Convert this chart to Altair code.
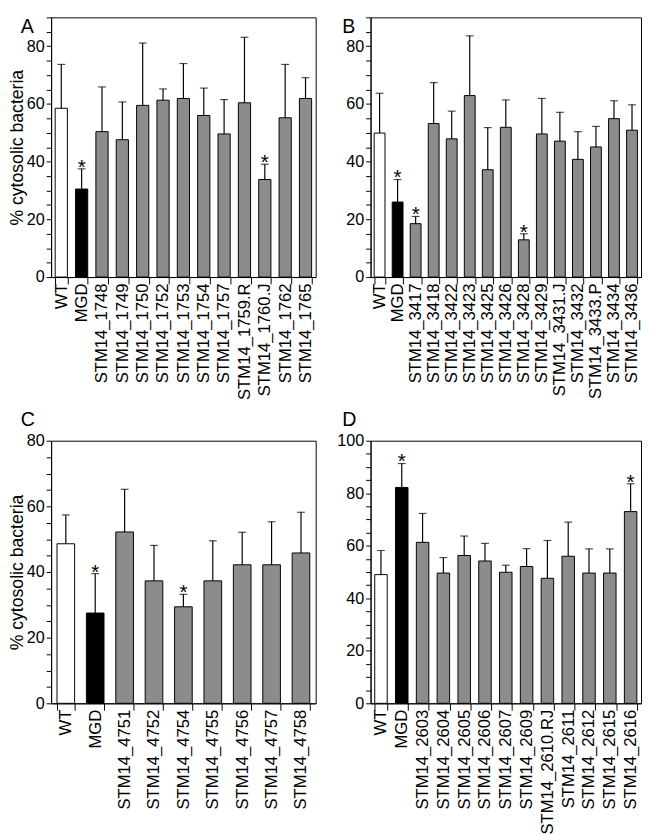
import altair as alt
import pandas as pd

FONT = "Liberation Sans"

# ---------------- data ----------------
A_labels = ["WT", "MGD", "STM14_1748", "STM14_1749", "STM14_1750", "STM14_1752", "STM14_1753",
            "STM14_1754", "STM14_1757", "STM14_1759.R", "STM14_1760.J", "STM14_1762", "STM14_1765"]
A_mean = [58.5, 30.5, 50.4, 47.6, 59.5, 61.3, 61.9, 56.0, 49.6, 60.4, 33.8, 55.2, 61.9]
A_upper = [73.7, 37.5, 65.9, 60.7, 81.1, 65.2, 74.0, 65.5, 61.5, 83.1, 39.1, 73.7, 69.1]
A_sig = [0, 1, 0, 0, 0, 0, 0, 0, 0, 0, 1, 0, 0]

B_labels = ["WT", "MGD", "STM14_3417", "STM14_3418", "STM14_3422", "STM14_3423", "STM14_3425",
            "STM14_3426", "STM14_3428", "STM14_3429", "STM14_3431.J", "STM14_3432", "STM14_3433.P",
            "STM14_3434", "STM14_3436"]
B_mean = [49.9, 26.0, 18.5, 53.2, 47.9, 62.9, 37.2, 51.9, 12.9, 49.6, 47.1, 40.8, 45.1, 54.9, 50.9]
B_upper = [63.7, 33.8, 21.0, 67.4, 57.5, 83.6, 51.8, 61.4, 15.0, 61.9, 57.1, 50.4, 52.2, 61.1, 59.7]
B_sig = [0, 1, 1, 0, 0, 0, 0, 0, 1, 0, 0, 0, 0, 0, 0]

C_labels = ["WT", "MGD", "STM14_4751", "STM14_4752", "STM14_4754", "STM14_4755", "STM14_4756",
            "STM14_4757", "STM14_4758"]
C_mean = [48.6, 27.5, 52.2, 37.3, 29.4, 37.3, 42.2, 42.2, 45.8]
C_upper = [57.4, 39.5, 65.2, 48.1, 33.2, 49.5, 52.1, 55.3, 58.2]
C_sig = [0, 1, 0, 0, 1, 0, 0, 0, 0]

D_labels = ["WT", "MGD", "STM14_2603", "STM14_2604", "STM14_2605", "STM14_2606", "STM14_2607",
            "STM14_2609", "STM14_2610.RJ", "STM14_2611", "STM14_2612", "STM14_2615", "STM14_2616"]
D_mean = [49.0, 82.2, 61.3, 49.6, 56.3, 54.2, 49.9, 52.1, 47.6, 56.0, 49.6, 49.6, 73.0]
D_upper = [58.2, 91.3, 72.3, 55.5, 63.7, 60.9, 52.6, 58.9, 62.0, 69.0, 58.8, 58.8, 83.6]
D_sig = [0, 1, 0, 0, 0, 0, 0, 0, 0, 0, 0, 0, 1]

KINDS = ["WT", "MGD", "mutant"]
KIND_COLORS = ["#ffffff", "#000000", "#8c8c8c"]


def panel(labels, means, uppers, sig, ymax, letter, show_title, width, height, lx, ly):
    kinds = [l if l in ("WT", "MGD") else "mutant" for l in labels]
    df = pd.DataFrame({"label": labels, "mean": means, "upper": uppers,
                       "sig": sig, "kind": kinds})
    xaxis = alt.Axis(title=None, labelAngle=-90, tickBand="extent",
                     tickSize=7, labelPadding=-1, labelFontSize=17, labelFont=FONT,
                     labelColor="black", tickColor="black", domainColor="black")
    x = alt.X("label:N", sort=labels,
              scale=alt.Scale(paddingInner=0.4, paddingOuter=0.2), axis=xaxis)
    yaxis = alt.Axis(values=list(range(0, ymax + 1, 5)),
                     labelExpr="datum.value % 20 === 0 ? datum.label : ''",
                     tickSize=5, labelPadding=2, labelFontSize=16.5, labelFont=FONT,
                     labelColor="black", tickColor="black", domainColor="black",
                     grid=False,
                     title="% cytosolic bacteria" if show_title else None,
                     titleFontSize=18, titleFontWeight="normal", titleFont=FONT,
                     titleColor="black", titlePadding=0)
    y = alt.Y("mean:Q", scale=alt.Scale(domain=[0, ymax], nice=False, zero=True), axis=yaxis)

    base = alt.Chart(df)
    bars = base.mark_bar(stroke="black", strokeWidth=1).encode(
        fill=alt.Fill("kind:N", scale=alt.Scale(domain=KINDS, range=KIND_COLORS), legend=None),
    )
    rule = base.mark_rule(color="black", strokeWidth=1.2).encode(y2="upper:Q")
    cap = base.transform_calculate(mean="datum.upper").mark_tick(
        color="black", size=8, thickness=1.2)
    stars = base.transform_filter("datum.sig == 1").transform_calculate(
        mean="datum.upper").mark_text(
        text="*", fontSize=21, font=FONT, baseline="alphabetic", dy=5, color="black")
    core = alt.layer(bars, rule, cap, stars).encode(x=x, y=y)

    let = alt.Chart(pd.DataFrame({"t": [letter]})).mark_text(
        fontSize=20, font=FONT, align="left", baseline="top", color="black"
    ).encode(x=alt.value(lx), y=alt.value(ly), text="t:N")
    return alt.layer(core, let).properties(width=width, height=height)


pA = panel(A_labels, A_mean, A_upper, A_sig, 90, "A", True, 270, 265, -31, 0)
pB = panel(B_labels, B_mean, B_upper, B_sig, 90, "B", False, 276, 265, -29, 0)
pC = panel(C_labels, C_mean, C_upper, C_sig, 80, "C", True, 270, 268, -31, -31)
pD = panel(D_labels, D_mean, D_upper, D_sig, 100, "D", False, 276, 268, -29, -31)

chart = alt.concat(pA, pB, pC, pD, columns=2, spacing=alt.RowColnumber(row=167, column=56),
                   bounds="flush").properties(padding=0).configure_view(
    stroke="black", strokeWidth=1
)

chart.save("out.html", embed_options={"renderer": "svg", "actions": False})
